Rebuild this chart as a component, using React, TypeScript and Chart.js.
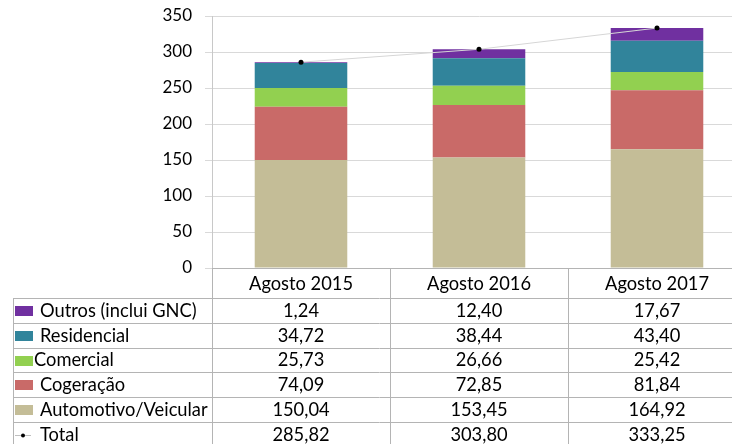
import React, { useEffect, useRef } from "react";
import { Chart, registerables } from "chart.js";

Chart.register(...registerables);

const categories = ["Agosto 2015", "Agosto 2016", "Agosto 2017"];
const automotivo = [150.04, 153.45, 164.92];
const cogeracao = [74.09, 72.85, 81.84];
const comercial = [25.73, 26.66, 25.42];
const residencial = [34.72, 38.44, 43.4];
const outros = [1.24, 12.4, 17.67];
const total = [285.82, 303.8, 333.25];

const COLORS = {
  outros: "#7030a0",
  residencial: "#31849b",
  comercial: "#92d050",
  cogeracao: "#c96a68",
  automotivo: "#c4bd97",
};

const FONT = "Lato";
const W = 760;
const H = 460;

const tableRows = [
  { label: "Outros (inclui GNC)", data: outros, color: COLORS.outros, kind: "box" },
  { label: "Residencial", data: residencial, color: COLORS.residencial, kind: "box" },
  { label: "Comercial", data: comercial, color: COLORS.comercial, kind: "boxTight" },
  { label: "Cogeração", data: cogeracao, color: COLORS.cogeracao, kind: "box" },
  { label: "Automotivo/Veicular", data: automotivo, color: COLORS.automotivo, kind: "box" },
  { label: "Total", data: total, color: "#000", kind: "line" },
];

const fmt = (v: number) => v.toFixed(2).replace(".", ",");

const tablePlugin = {
  id: "dataTable",
  afterDraw(chart: any) {
    const ctx = chart.ctx as CanvasRenderingContext2D;
    const area = chart.chartArea;
    const xs = chart.scales.x;
    const n = categories.length;
    const colW = (area.right - area.left) / n;
    const top = Math.round(area.bottom);
    const headerH = 30;
    const rowH = 24.8;
    const tableLeft = 13;
    const rowsTop = top + headerH;
    const bottom = rowsTop + rowH * tableRows.length;
    const px = (v: number) => Math.round(v) + 0.5;

    ctx.save();
    ctx.strokeStyle = "#b4b4b4";
    ctx.lineWidth = 1;
    ctx.beginPath();
    ctx.moveTo(area.left, px(top));
    ctx.lineTo(area.right, px(top));
    for (let r = 0; r <= tableRows.length; r++) {
      const y = px(rowsTop + r * rowH);
      ctx.moveTo(tableLeft, y);
      ctx.lineTo(area.right, y);
    }
    ctx.moveTo(px(tableLeft), px(rowsTop));
    ctx.lineTo(px(tableLeft), bottom);
    for (let c = 0; c <= n; c++) {
      const x = px(area.left + c * colW);
      ctx.moveTo(x, px(top));
      ctx.lineTo(x, bottom);
    }
    ctx.stroke();

    ctx.fillStyle = "#000";
    ctx.font = `18.3px ${FONT}`;
    ctx.textBaseline = "middle";
    ctx.textAlign = "center";
    categories.forEach((c, i) => {
      ctx.fillText(c, xs.getPixelForValue(i), top + headerH / 2 + 1);
    });

    tableRows.forEach((row, r) => {
      const cy = rowsTop + r * rowH + rowH / 2 + 0.5;
      if (row.kind === "line") {
        ctx.strokeStyle = "#bfbfbf";
        ctx.beginPath();
        ctx.moveTo(15, Math.round(cy) + 0.5);
        ctx.lineTo(31, Math.round(cy) + 0.5);
        ctx.stroke();
        ctx.fillStyle = "#000";
        ctx.beginPath();
        ctx.arc(23, Math.round(cy) + 0.5, 2, 0, Math.PI * 2);
        ctx.fill();
      } else {
        ctx.fillStyle = row.color;
        ctx.fillRect(15, Math.round(cy - 5), 18, 10);
      }
      ctx.fillStyle = "#000";
      ctx.textAlign = "left";
      ctx.fillText(row.label, row.kind === "boxTight" ? 34 : 40, cy);
      ctx.textAlign = "center";
      row.data.forEach((v, i) => {
        ctx.fillText(fmt(v), xs.getPixelForValue(i), cy);
      });
    });
    ctx.restore();
  },
};

export default function App() {
  const ref = useRef<HTMLCanvasElement | null>(null);

  useEffect(() => {
    if (!ref.current) return;
    const barDefaults = {
      type: "bar" as const,
      order: 1,
      stack: "s",
      categoryPercentage: 1,
      barPercentage: 0.52,
      borderWidth: 0,
    };
    const chart = new Chart(ref.current, {
      type: "bar",
      data: {
        labels: categories,
        datasets: [
          {
            type: "line",
            label: "Total",
            data: total,
            order: 0,
            stack: "total",
            borderColor: "#d6d6d6",
            borderWidth: 1,
            pointRadius: 2.5,
            pointBackgroundColor: "#000",
            pointBorderWidth: 0,
            fill: false,
          } as any,
          { ...barDefaults, label: "Automotivo/Veicular", data: automotivo, backgroundColor: COLORS.automotivo },
          { ...barDefaults, label: "Cogeração", data: cogeracao, backgroundColor: COLORS.cogeracao },
          { ...barDefaults, label: "Comercial", data: comercial, backgroundColor: COLORS.comercial },
          { ...barDefaults, label: "Residencial", data: residencial, backgroundColor: COLORS.residencial },
          { ...barDefaults, label: "Outros (inclui GNC)", data: outros, backgroundColor: COLORS.outros },
        ],
      },
      options: {
        responsive: false,
        animation: false,
        devicePixelRatio: 1,
        layout: { padding: { top: 16, right: W - 746, bottom: H - 268, left: 0 } },
        plugins: { legend: { display: false }, tooltip: { enabled: false } },
        scales: {
          x: { stacked: true, display: false },
          y: {
            stacked: true,
            min: 0,
            max: 350,
            ticks: { stepSize: 50, color: "#000", padding: 13, font: { family: FONT, size: 17 } },
            grid: { color: "#d9d9d9", tickLength: 7, tickColor: "#d9d9d9" },
            border: { color: "#c8c8c8" },
            afterFit: (s: any) => {
              s.width = 212;
              s.paddingTop = 0;
              s.paddingBottom = 0;
            },
          },
        },
      },
      plugins: [tablePlugin],
    });
    return () => chart.destroy();
  }, []);

  return (
    <div
      style={{
        position: "fixed",
        left: 0,
        top: 0,
        width: 732,
        height: 444,
        overflow: "hidden",
        background: "#fff",
      }}
    >
      <canvas ref={ref} width={W} height={H} style={{ width: W, height: H, display: "block" }} />
    </div>
  );
}
